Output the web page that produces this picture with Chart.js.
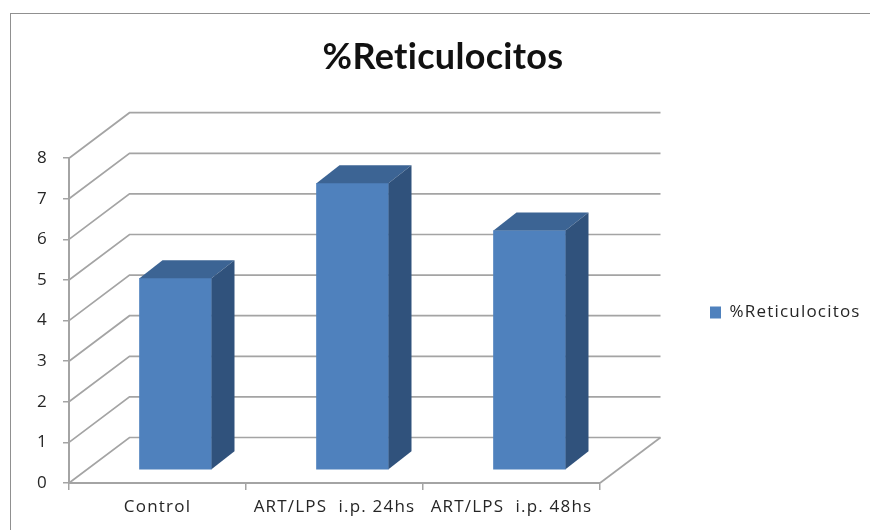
<!DOCTYPE html>
<html><head><meta charset="utf-8">
<style>
html,body{margin:0;padding:0;background:#fff;width:870px;height:530px;overflow:hidden}
#frame{position:absolute;left:10px;top:13px;width:860px;height:517px;border-left:1.5px solid #909090;border-top:1.5px solid #909090;box-sizing:border-box}
#wrap{position:absolute;left:16px;top:0;width:854px;height:530px}
#c{filter:blur(0.4px)}
</style>
<script src="https://cdn.jsdelivr.net/npm/chart.js@4/dist/chart.umd.min.js"></script>
</head><body>
<div id="frame"></div>
<div id="wrap"><canvas id="c" width="854" height="530"></canvas></div>
<script>
const categories = ['Control', 'ART/LPS  i.p. 24hs', 'ART/LPS  i.p. 48hs'];
const seriesName = '%Reticulocitos';
const seriesValues = [4.72, 7.06, 5.9];
const yTicks = [0, 1, 2, 3, 4, 5, 6, 7, 8];

const GRID = '#a4a4a4', FRONT = '#4f81bd', TOP = '#3c6494', SIDE = '#30527c', TEXT = '#262626';
const wall = {dx: 60.5, dy: -45.5};
const barShift = {dx: 18, dy: -13};
const barDepth = {dx: 23, dy: -18};
const LABEL_FONT = {family: 'Open Sans', size: 17};

const solid3d = {
  id: 'solid3d',
  afterInit(chart) {
    const lg = chart.legend, fit = lg.fit;
    lg.fit = function () { fit.call(this); this.width = 270; };
    const tb = chart.titleBlock, tdraw = tb.draw;
    tb.draw = function (a) {
      const c = chart.ctx, s = c.letterSpacing;
      c.letterSpacing = '0.3px'; tdraw.call(this, a); c.letterSpacing = s;
    };
  },
  beforeDraw(chart) {
    const lg = chart.legend;
    lg.left = 694; lg.top = 0; lg.bottom = 625;
    chart.ctx.letterSpacing = '1.2px';
  },
  beforeDatasetsDraw(chart) {
    const {ctx, scales: {x, y}} = chart;
    ctx.save();
    ctx.strokeStyle = GRID; ctx.lineWidth = 1.7;
    yTicks.forEach(v => {
      const py = y.getPixelForValue(v);
      ctx.beginPath();
      ctx.moveTo(x.left, py);
      ctx.lineTo(x.left + wall.dx, py + wall.dy);
      ctx.lineTo(x.right + wall.dx, py + wall.dy);
      ctx.stroke();
    });
    const y0 = y.getPixelForValue(0);
    ctx.beginPath();
    ctx.moveTo(x.right, y0);
    ctx.lineTo(x.right + wall.dx, y0 + wall.dy);
    ctx.stroke();
    ctx.restore();
  },
  beforeDatasetDraw(chart) {
    chart.ctx.save();
    chart.ctx.translate(barShift.dx, barShift.dy);
  },
  afterDatasetDraw(chart, args) {
    const ctx = chart.ctx;
    chart.getDatasetMeta(args.index).data.forEach(b => {
      const l = b.x - b.width / 2, r = b.x + b.width / 2, t = b.y, bt = b.base;
      ctx.fillStyle = TOP;
      ctx.beginPath();
      ctx.moveTo(l, t); ctx.lineTo(l + barDepth.dx, t + barDepth.dy);
      ctx.lineTo(r + barDepth.dx, t + barDepth.dy); ctx.lineTo(r, t);
      ctx.closePath(); ctx.fill();
      ctx.fillStyle = SIDE;
      ctx.beginPath();
      ctx.moveTo(r, t); ctx.lineTo(r + barDepth.dx, t + barDepth.dy);
      ctx.lineTo(r + barDepth.dx, bt + barDepth.dy); ctx.lineTo(r, bt);
      ctx.closePath(); ctx.fill();
    });
    ctx.restore();
  }
};

new Chart(document.getElementById('c'), {
  type: 'bar',
  plugins: [solid3d],
  data: {
    labels: categories,
    datasets: [{
      label: seriesName, data: seriesValues, backgroundColor: FRONT,
      barThickness: 72, clip: false, borderWidth: 0
    }]
  },
  options: {
    responsive: false, animation: false,
    layout: {padding: 0},
    plugins: {
      tooltip: {enabled: false},
      title: {
        display: true, text: seriesName, color: '#111111',
        font: {family: 'Lato', size: 36, weight: 'bold', lineHeight: 1.2},
        padding: {top: 36, bottom: 79}
      },
      legend: {
        position: 'right',
        labels: {
          color: TEXT, boxWidth: 11, boxHeight: 12, padding: 0,
          font: LABEL_FONT
        }
      }
    },
    scales: {
      x: {
        type: 'category',
        afterFit(s) { s.height = 47; },
        border: {color: GRID, width: 2},
        grid: {color: GRID, lineWidth: 1.5, drawOnChartArea: false, tickLength: 7},
        ticks: {color: TEXT, font: LABEL_FONT, padding: 7, maxRotation: 0, autoSkip: false}
      },
      y: {
        min: 0, max: 8,
        afterFit(s) { s.width = 53; },
        afterBuildTicks(s) { s.ticks = yTicks.map(v => ({value: v})); },
        border: {color: GRID, width: 2},
        grid: {color: GRID, lineWidth: 1.5, drawOnChartArea: false, tickLength: 6},
        ticks: {color: TEXT, font: LABEL_FONT, padding: 15}
      }
    }
  }
});
</script>
</body></html>
